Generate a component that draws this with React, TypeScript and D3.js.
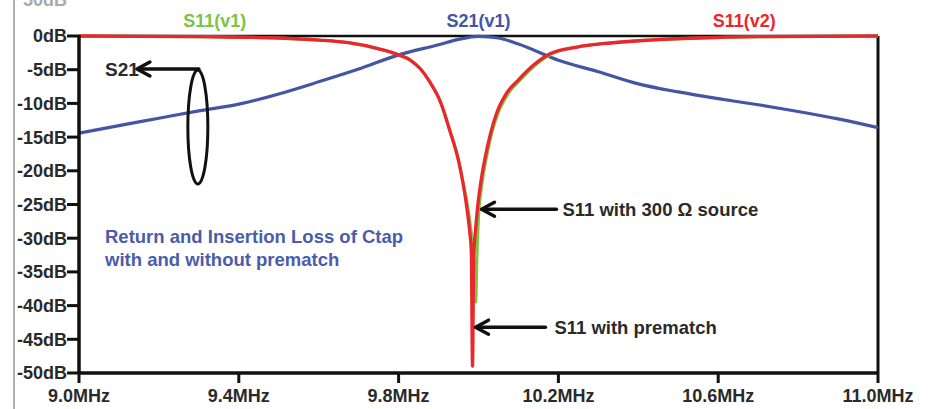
import React from 'react';
import * as d3 from 'd3';

// frequency ticks (MHz) and dB ticks
const xTicks = [9.0, 9.4, 9.8, 10.2, 10.6, 11.0];
const yTicks = [0, -5, -10, -15, -20, -25, -30, -35, -40, -45, -50];

// S21(v1) insertion loss
const s21Freq = [9.0, 9.1, 9.2, 9.3, 9.4, 9.5, 9.6, 9.7, 9.8, 9.9, 9.95, 10.0, 10.05, 10.1, 10.2, 10.3, 10.4, 10.5, 10.6, 10.7, 10.8, 10.9, 11.0];
const s21dB = [-14.4, -13.3, -12.2, -11.1, -10.1, -8.6, -6.8, -4.9, -2.8, -1.3, -0.5, -0.05, -0.3, -1.2, -3.6, -5.3, -7.1, -8.3, -9.3, -10.2, -11.2, -12.3, -13.6];

// S11(v2) return loss with prematch
const s11v2Freq = [9.0, 9.3, 9.5, 9.6, 9.675, 9.75, 9.8, 9.83, 9.855, 9.878, 9.905, 9.928, 9.95, 9.96, 9.972, 9.978, 9.982, 9.985, 9.988, 9.993, 9.9975, 10.005, 10.015, 10.03, 10.045, 10.07, 10.1, 10.14, 10.18, 10.25, 10.3, 10.43, 10.55, 10.7, 11.0];
const s11v2dB = [0, -0.1, -0.3, -0.6, -1.0, -1.9, -2.8, -3.6, -4.9, -6.8, -9.8, -14, -18.5, -21.4, -26, -29, -32, -49, -33, -28.5, -25.5, -22, -18.5, -14.5, -11.5, -8.5, -6.5, -4.2, -2.6, -1.6, -1.2, -0.6, -0.3, -0.1, 0];

// S11(v1) return loss with 300 ohm source
const s11v1Freq = [9.0, 9.3, 9.5, 9.6, 9.675, 9.75, 9.8, 9.83, 9.855, 9.878, 9.905, 9.928, 9.95, 9.96, 9.975, 9.985, 9.99, 9.993, 9.996, 10.0, 10.01, 10.02, 10.035, 10.05, 10.075, 10.105, 10.145, 10.185, 10.25, 10.3, 10.43, 10.55, 10.7, 11.0];
const s11v1dB = [0, -0.1, -0.3, -0.6, -1.0, -1.9, -2.8, -3.6, -4.9, -6.8, -9.8, -14, -18.5, -21.4, -26, -31, -35, -39.5, -33, -27, -21.5, -18, -14, -11.3, -8.5, -6.5, -4.2, -2.6, -1.6, -1.2, -0.6, -0.3, -0.1, 0];

const RED = '#e8282c';
const GREEN = '#7cc444';
const BLUE = '#4455a6';
const TXT = '#2a2a2a';
const FONT = '"Liberation Sans", Arial, sans-serif';

const W = 935;
const H = 409;
const margin = { left: 79, right: 57, top: 36, bottom: 36 };

const Arrow: React.FC<{ tipX: number; tipY: number; tailX: number }> = ({ tipX, tipY, tailX }) => (
  <g stroke="#111" strokeWidth={3.5} fill="none" strokeLinecap="round" strokeLinejoin="round">
    <line x1={tipX + 3} y1={tipY} x2={tailX} y2={tipY} />
    <path d={`M${tipX + 13},${tipY - 7} L${tipX},${tipY} L${tipX + 13},${tipY + 7}`} />
  </g>
);

const App: React.FC = () => {
  const x = d3.scaleLinear().domain([9.0, 11.0]).range([margin.left, W - margin.right]);
  const y = d3.scaleLinear().domain([0, -50]).range([margin.top, H - margin.bottom]);

  const line = d3.line<[number, number]>()
    .x(d => x(d[0]))
    .y(d => y(d[1]))
    .curve(d3.curveMonotoneX);

  const zip = (f: number[], v: number[]) => f.map((fr, i) => [fr, v[i]] as [number, number]);

  const plotBottom = y(-50);
  const plotRight = x(11.0);

  return (
    <svg width={W} height={H} style={{ position: 'absolute', left: 0, top: 0, background: '#fff' }}>
      {/* outer gray border */}
      <line x1={14} y1={0} x2={14} y2={H} stroke="#b0b0b0" strokeWidth={2} />
      <text x={67} y={6} textAnchor="end" fontFamily={FONT} fontWeight="bold" fontSize={18} fill="#aaa">50dB</text>

      {/* frame */}
      <line x1={x(9.0)} y1={y(0)} x2={plotRight} y2={y(0)} stroke="#111" strokeWidth={2.5} />
      <line x1={plotRight} y1={y(0)} x2={plotRight} y2={plotBottom} stroke="#111" strokeWidth={3} />

      {/* curves */}
      <path d={line(zip(s21Freq, s21dB)) || ''} fill="none" stroke={BLUE} strokeWidth={3.2} />
      <path d={line(zip(s11v1Freq, s11v1dB)) || ''} fill="none" stroke={GREEN} strokeWidth={3} />
      <path d={line(zip(s11v2Freq, s11v2dB)) || ''} fill="none" stroke={RED} strokeWidth={3.3} />

      {/* y axis */}
      <line x1={x(9.0)} y1={y(0) - 1} x2={x(9.0)} y2={plotBottom + 1} stroke="#111" strokeWidth={3.5} />
      {yTicks.map(t => (
        <g key={t}>
          <line x1={x(9.0) - 12} y1={y(t)} x2={x(9.0)} y2={y(t)} stroke="#111" strokeWidth={3} />
          <text x={67} y={y(t)} dy="0.36em" textAnchor="end" fontFamily={FONT} fontWeight="bold" fontSize={18} fill={TXT}>
            {`${t}dB`}
          </text>
        </g>
      ))}

      {/* x axis */}
      <line x1={x(9.0) - 1} y1={plotBottom} x2={plotRight + 1} y2={plotBottom} stroke="#111" strokeWidth={3.5} />
      {xTicks.map(t => (
        <g key={t}>
          <line x1={x(t)} y1={plotBottom} x2={x(t)} y2={plotBottom + 10} stroke="#111" strokeWidth={3} />
          <text x={x(t)} y={402} textAnchor="middle" fontFamily={FONT} fontWeight="bold" fontSize={18} fill={TXT}>
            {`${t.toFixed(1)}MHz`}
          </text>
        </g>
      ))}

      {/* trace labels */}
      <text x={x(9.34)} y={27} textAnchor="middle" fontFamily={FONT} fontWeight="bold" fontSize={18} fill={GREEN}>S11(v1)</text>
      <text x={x(10.0)} y={27} textAnchor="middle" fontFamily={FONT} fontWeight="bold" fontSize={18} fill={BLUE}>S21(v1)</text>
      <text x={x(10.665)} y={27} textAnchor="middle" fontFamily={FONT} fontWeight="bold" fontSize={18} fill={RED}>S11(v2)</text>

      {/* S21 annotation */}
      <text x={x(9.065)} y={y(-4.9)} dy="0.36em" fontFamily={FONT} fontWeight="bold" fontSize={19} fill={TXT}>S21</text>
      <Arrow tipX={x(9.145)} tipY={y(-4.9)} tailX={x(9.3)} />
      <ellipse cx={x(9.2975)} cy={y(-13.5)} rx={10} ry={57} fill="none" stroke="#111" strokeWidth={3} />

      {/* S11 annotations */}
      <Arrow tipX={x(10.0075)} tipY={y(-25.7)} tailX={x(10.195)} />
      <text x={x(10.21)} y={y(-25.7)} dy="0.36em" fontFamily={FONT} fontWeight="bold" fontSize={18.5} fill={TXT}>S11 with 300 Ω source</text>
      <Arrow tipX={x(9.9925)} tipY={y(-43.2)} tailX={x(10.1675)} />
      <text x={x(10.19)} y={y(-43.2)} dy="0.36em" fontFamily={FONT} fontWeight="bold" fontSize={18.5} fill={TXT}>S11 with prematch</text>

      {/* title note */}
      <text x={105} y={243} fontFamily={FONT} fontWeight="bold" fontSize={18.5} fill="#4a5cab">Return and Insertion Loss of Ctap</text>
      <text x={105} y={266} fontFamily={FONT} fontWeight="bold" fontSize={18.5} fill="#4a5cab">with and without prematch</text>
    </svg>
  );
};

export default App;
